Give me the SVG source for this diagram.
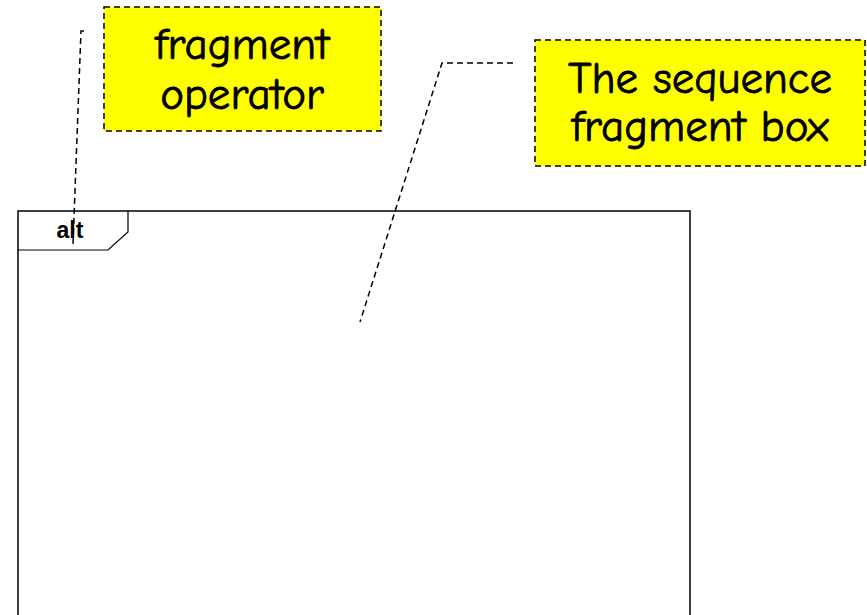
<svg xmlns="http://www.w3.org/2000/svg" width="867" height="615" viewBox="0 0 867 615">
<style>
.note{fill:#ffff00;stroke:#000;stroke-width:1.5;stroke-dasharray:6,4}
.nt{font-family:"Comic Sans MS","Comic Neue","DejaVu Sans",sans-serif;font-size:45px;fill:#000;stroke:#000;stroke-width:0.8;text-anchor:middle}
.lead{fill:none;stroke:#000;stroke-width:1.5;stroke-dasharray:6,4}
.frame{fill:#fff;stroke:#000;stroke-width:1.5}
</style>
<rect width="867" height="615" fill="#fff"/>
<g id="fragment">
<rect class="frame" x="18" y="211" width="672" height="410"/>
<path d="M18,250 L108,250 L128,232 L128,211" fill="none" stroke="#000" stroke-width="1.2"/>
<text x="70" y="238" font-family="Liberation Sans,Arial,sans-serif" font-size="23" font-weight="bold" text-anchor="middle">alt</text>
</g>
<g id="connectors">
<polyline class="lead" points="84,31 81,31 73,244"/>
<polyline class="lead" points="513,63 442,63 360,322"/>
</g>
<g id="note-operator">
<rect class="note" x="104" y="7" width="277" height="124"/>
<text class="nt" x="242" y="59">fragment</text>
<text class="nt" x="242" y="109">operator</text>
</g>
<g id="note-box">
<rect class="note" x="535" y="40" width="330" height="126"/>
<text class="nt" x="700" y="93">The sequence</text>
<text class="nt" x="700" y="141">fragment box</text>
</g>
</svg>
